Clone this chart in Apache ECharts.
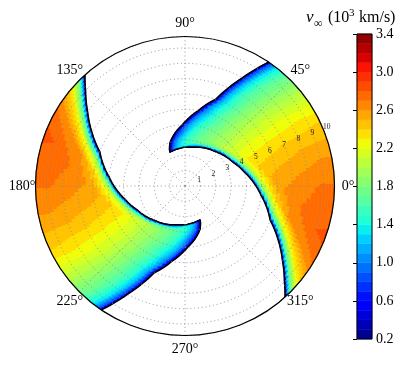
<!DOCTYPE html>
<html><head><meta charset="utf-8">
<script src="https://cdn.jsdelivr.net/npm/echarts@6/dist/echarts.min.js"></script>
<style>html,body{margin:0;padding:0;background:#fff}#c{width:408px;height:365px}</style>
</head><body><div id="c"></div>
<script>
// ---- data ----
// radial rows of one spiral arm (radius units)
const armRadii   = [2.42, 2.6, 3.0, 3.5, 4.0, 4.5, 5.0, 6.0, 7.0, 8.0, 9.0, 9.75];
// angle (deg) of the trailing (clockwise) edge and of the leading edge at each row
const trailAngle = [112, 76, 48, 26, 12.5, 2.5, -7, -22, -29.9, -37.4, -43.9, -48];
const leadAngle  = [114, 113, 109, 101, 92.5, 86, 80, 70.5, 66.1, 62, 58.5, 56];
// fraction across the arm (0 = trailing edge, 1 = leading edge)
const crossFrac  = [0, 0.012, 0.03, 0.07, 0.14, 0.25, 0.4, 0.55, 0.7, 0.82, 0.91, 0.96, 0.99, 1];
// v_inf (10^3 km/s) at each row x crossFrac
const vInf = [
  [0.2, 0.25, 0.3, 0.35, 0.4, 0.45, 0.5, 0.5, 0.45, 0.4, 0.35, 0.3, 0.25, 0.2],
  [0.2, 0.35, 0.4, 0.5, 0.65, 0.95, 1.3, 1.35, 1.22, 1.03, 0.7, 0.34, 0.25, 0.2],
  [0.2, 0.28, 0.4, 0.68, 1.35, 1.64, 1.72, 1.62, 1.42, 1.2, 0.95, 0.63, 0.29, 0.2],
  [0.2, 0.35, 0.7, 1.3, 1.78, 2.02, 1.92, 1.75, 1.56, 1.31, 0.94, 0.75, 0.37, 0.2],
  [0.2, 0.42, 0.89, 1.54, 2.0, 2.18, 2.0, 1.87, 1.68, 1.42, 1.15, 0.85, 0.36, 0.2],
  [0.2, 0.5, 1.03, 1.68, 2.17, 2.32, 2.16, 1.97, 1.71, 1.46, 1.18, 0.9, 0.42, 0.2],
  [0.2, 0.6, 1.2, 1.8, 2.21, 2.41, 2.28, 2.09, 1.85, 1.59, 1.24, 0.97, 0.48, 0.2],
  [0.2, 0.75, 1.4, 2.02, 2.38, 2.56, 2.46, 2.29, 2.03, 1.76, 1.44, 1.12, 0.63, 0.2],
  [0.2, 0.9, 1.55, 2.2, 2.6, 2.65, 2.56, 2.41, 2.15, 1.83, 1.55, 1.2, 0.72, 0.2],
  [0.2, 1.0, 1.65, 2.28, 2.65, 2.73, 2.65, 2.51, 2.26, 1.92, 1.61, 1.27, 0.8, 0.2],
  [0.2, 1.05, 1.72, 2.32, 2.66, 2.8, 2.74, 2.59, 2.36, 2.0, 1.68, 1.33, 0.82, 0.2],
  [0.2, 1.1, 1.78, 2.35, 2.68, 2.82, 2.76, 2.63, 2.42, 2.09, 1.72, 1.36, 0.85, 0.2]
];
// the second arm is the same field turned by 180 degrees
const armRotation = [0, 180];
const radialTickLabels = [1, 2, 3, 4, 5, 6, 7, 8, 9, 10];
const angleTickLabels = [0, 45, 90, 135, 180, 225, 270, 315];
const colorLevels = [0.2,0.3,0.4,0.5,0.6,0.7,0.8,0.9,1.0,1.1,1.2,1.3,1.4,1.5,1.6,1.7,1.8,1.9,2.0,2.1,2.2,2.3,2.4,2.5,2.6,2.7,2.8,2.9,3.0,3.1,3.2,3.3,3.4];
const colorbarTicks = [0.2, 0.6, 1.0, 1.4, 1.8, 2.2, 2.6, 3.0, 3.4];

// ---- layout constants ----
const RADIAL_LABEL_ANGLE = 22.5;
const ANGLE_LABEL_RADIUS = 10.63;

// ---- colour map (matplotlib jet, banded like contourf) ----
const JET = {
  r: [[0,0],[0.35,0],[0.66,1],[0.89,1],[1,0.5]],
  g: [[0,0],[0.125,0],[0.375,1],[0.64,1],[0.91,0],[1,0]],
  b: [[0,0.5],[0.11,1],[0.34,1],[0.65,0],[1,0]]
};
function seg(s, t) {
  for (let k = 0; k < s.length - 1; k++) {
    if (t <= s[k+1][0]) { const f = (t - s[k][0]) / (s[k+1][0] - s[k][0]); return s[k][1] + f * (s[k+1][1] - s[k][1]); }
  }
  return s[s.length-1][1];
}
function jet(t) {
  return 'rgb(' + Math.round(255*seg(JET.r,t)) + ',' + Math.round(255*seg(JET.g,t)) + ',' + Math.round(255*seg(JET.b,t)) + ')';
}
const NB = colorLevels.length - 1;
const bandColors = [];
for (let b = 0; b < NB; b++) bandColors.push(jet((b + 0.5) / NB));
function bandOf(v) { let b = 0; while (b < NB - 1 && v >= colorLevels[b+1] - 1e-9) b++; return b; }
function gradStops(vA, vB) {
  const bA = bandOf(vA), bB = bandOf(vB);
  const st = [{offset: 0, color: bandColors[bA]}];
  const cl = f => Math.max(0, Math.min(1, f));
  if (bA < bB) {
    for (let b = bA; b < bB; b++) { const f = cl((colorLevels[b+1] - vA) / (vB - vA)); st.push({offset: f, color: bandColors[b]}, {offset: f, color: bandColors[b+1]}); }
  } else if (bA > bB) {
    for (let b = bA; b > bB; b--) { const f = cl((colorLevels[b] - vA) / (vB - vA)); st.push({offset: f, color: bandColors[b]}, {offset: f, color: bandColors[b-1]}); }
  }
  st.push({offset: 1, color: bandColors[bB]});
  return st;
}

const NSUB = 4;
function lerp(a, b, t) { return a + (b - a) * t; }
const norm = d => ((d % 360) + 360) % 360;

// cells of both arms + one outline item per arm
const armCells = [];
armRotation.forEach((rot, a) => {
  for (let i = 0; i < armRadii.length - 1; i++) {
    for (let j = 0; j < crossFrac.length - 1; j++) {
      armCells.push([(armRadii[i] + armRadii[i+1]) / 2, norm((trailAngle[i] + leadAngle[i]) / 2 + rot), i, j, a]);
    }
  }
});
armRotation.forEach((rot, a) => armCells.push([armRadii[0], norm(leadAngle[0] + rot), -1, -1, a]));

function renderArm(params, api) {
  const i = api.value(2), j = api.value(3), a = api.value(4);
  const rot = armRotation[a];
  const P = (r, deg) => api.coord([r, norm(deg)]);
  if (i < 0) {
    const pts = [];
    for (let k = armRadii.length - 1; k > 0; k--) {
      for (let q = 0; q < NSUB; q++) {
        const u = 1 - q / NSUB;
        pts.push(P(lerp(armRadii[k-1], armRadii[k], u), lerp(trailAngle[k-1], trailAngle[k], u) + rot));
      }
    }
    pts.push(P(armRadii[0], trailAngle[0] + rot));
    pts.push(P(armRadii[0], leadAngle[0] + rot));
    for (let k = 0; k < armRadii.length - 1; k++) {
      for (let q = 1; q <= NSUB; q++) {
        const u = q / NSUB;
        pts.push(P(lerp(armRadii[k], armRadii[k+1], u), lerp(leadAngle[k], leadAngle[k+1], u) + rot));
      }
    }
    return {type: 'polyline', shape: {points: pts}, style: {stroke: '#000', lineWidth: 1.5, fill: null, lineJoin: 'round'}, z2: 50};
  }
  const children = [];
  const s0 = crossFrac[j], s1 = crossFrac[j+1];
  const edge = u => [lerp(armRadii[i], armRadii[i+1], u), lerp(trailAngle[i], trailAngle[i+1], u), lerp(leadAngle[i], leadAngle[i+1], u)];
  const th = (E, s) => E[1] + s * (E[2] - E[1]) + rot;
  for (let q = 0; q < NSUB; q++) {
    const u0 = q / NSUB, u1 = (q + 1) / NSUB, um = (u0 + u1) / 2;
    const E0 = edge(u0), E1 = edge(u1), Em = edge(um);
    const n = Math.max(1, Math.ceil(Math.abs((s1 - s0) * (E1[2] - E1[1])) / 2.5));
    const pts = [];
    for (let k = 0; k <= n; k++) pts.push(P(E0[0], th(E0, lerp(s0, s1, k / n))));
    for (let k = n; k >= 0; k--) pts.push(P(E1[0], th(E1, lerp(s0, s1, k / n))));
    const vA = lerp(vInf[i][j], vInf[i+1][j], um), vB = lerp(vInf[i][j+1], vInf[i+1][j+1], um);
    const A = P(Em[0], th(Em, s0)), B = P(Em[0], th(Em, s1));
    let fill, stroke;
    if (bandOf(vA) === bandOf(vB) || Math.hypot(B[0]-A[0], B[1]-A[1]) < 0.05) {
      fill = stroke = bandColors[bandOf((vA + vB) / 2)];
    } else {
      fill = {type: 'linear', x: A[0], y: A[1], x2: B[0], y2: B[1], global: true, colorStops: gradStops(vA, vB)};
      stroke = {type: 'linear', x: A[0], y: A[1], x2: B[0], y2: B[1], global: true, colorStops: gradStops(vA, vB)};
    }
    children.push({type: 'polygon', shape: {points: pts}, style: {fill: fill, stroke: stroke, lineWidth: 0.7}});
  }
  return {type: 'group', children: children};
}

const serif = 'Liberation Serif';

// polar tick labels (radial numbers along 22.5 deg, angle labels outside the rim)
const polarLabels = radialTickLabels.map(t => [t, RADIAL_LABEL_ANGLE, 0])
  .concat(angleTickLabels.map(a => [ANGLE_LABEL_RADIUS, a, 1]));
function renderPolarLabel(params, api) {
  const r = api.value(0), ang = api.value(1), kind = api.value(2);
  const p = api.coord([r, ang]);
  if (kind === 0) {
    return {type: 'text', x: p[0], y: p[1], style: {text: String(r), align: 'center', verticalAlign: 'middle', fontFamily: serif, fontSize: 7.5, fill: '#222'}, z2: 60};
  }
  return {type: 'text', x: p[0], y: p[1], style: {text: ang + '°', align: 'center', verticalAlign: 'middle', fontFamily: serif, fontSize: 14, fill: '#000'}, z2: 60};
}

// colour bar bands
const cbarItems = colorLevels.slice(0, -1).map((v, b) => [0.5, v, b]);
cbarItems.push([0.5, colorLevels[0], -1]);
function renderBar(params, api) {
  const b = api.value(2);
  if (b < 0) {
    const p0 = api.coord([0, colorLevels[0]]), p1 = api.coord([1, colorLevels[NB]]);
    return {type: 'rect', shape: {x: p0[0], y: p1[1], width: p1[0]-p0[0], height: p0[1]-p1[1]}, style: {fill: null, stroke: '#000', lineWidth: 1}, z2: 20};
  }
  const p0 = api.coord([0, colorLevels[b]]), p1 = api.coord([1, colorLevels[b+1]]);
  return {type: 'rect', shape: {x: p0[0], y: p1[1], width: p1[0]-p0[0], height: p0[1]-p1[1]}, style: {fill: bandColors[b], stroke: bandColors[b], lineWidth: 0.5}};
}

const gridDot = {color: '#8a8a8a', width: 0.9, type: [1, 2.8]};
const chart = echarts.init(document.getElementById('c'), null, {renderer: 'canvas'});
chart.setOption({
  animation: false,
  polar: [{center: [185, 186], radius: 149.5}],
  angleAxis: {
    polarIndex: 0, type: 'value', min: 0, max: 360, interval: 45, startAngle: 0, clockwise: false, z: 10,
    axisLine: {show: true, lineStyle: {color: '#000', width: 1.2}},
    axisTick: {show: false},
    axisLabel: {show: false},
    splitLine: {show: true, lineStyle: gridDot}
  },
  radiusAxis: {
    polarIndex: 0, type: 'value', min: 0, max: 9.75, interval: 1, z: 10,
    axisLine: {show: false}, axisTick: {show: false}, axisLabel: {show: false},
    splitLine: {show: true, lineStyle: gridDot}
  },
  grid: {left: 357, top: 34, width: 15, height: 305},
  xAxis: {type: 'value', min: 0, max: 1, show: false},
  yAxis: {
    type: 'value', position: 'right', z: 10,
    min: colorbarTicks[0], max: colorbarTicks[colorbarTicks.length-1], interval: +(colorbarTicks[1]-colorbarTicks[0]).toFixed(3),
    axisLine: {show: false},
    axisTick: {show: true, inside: true, length: 4, lineStyle: {color: '#000', width: 1}},
    axisLabel: {margin: 4, fontFamily: serif, fontSize: 14, color: '#000', formatter: v => v.toFixed(1)},
    splitLine: {show: false}
  },
  graphic: [
    {type: 'text', x: 306, y: 18, style: {text: 'v', fontFamily: serif, fontStyle: 'italic', fontSize: 17, fill: '#000', verticalAlign: 'middle'}},
    {type: 'text', x: 314, y: 23.5, style: {text: '∞', fontFamily: serif, fontSize: 12, fill: '#000', verticalAlign: 'middle'}},
    {type: 'text', x: 328, y: 18, style: {text: '(10', fontFamily: serif, fontSize: 16, fill: '#000', verticalAlign: 'middle'}},
    {type: 'text', x: 349, y: 13, style: {text: '3', fontFamily: serif, fontSize: 11, fill: '#000', verticalAlign: 'middle'}},
    {type: 'text', x: 359, y: 18, style: {text: 'km/s)', fontFamily: serif, fontSize: 16, fill: '#000', verticalAlign: 'middle'}}
  ],
  series: [
    {type: 'custom', coordinateSystem: 'polar', polarIndex: 0, renderItem: renderArm, data: armCells,
     encode: {radius: 0, angle: 1}, z: 2, silent: true, clip: false},
    {type: 'custom', coordinateSystem: 'polar', polarIndex: 0, renderItem: renderPolarLabel, data: polarLabels,
     encode: {radius: 0, angle: 1}, z: 12, silent: true, clip: false},
    {type: 'custom', coordinateSystem: 'cartesian2d', xAxisIndex: 0, yAxisIndex: 0, renderItem: renderBar, data: cbarItems, z: 2, silent: true}
  ]
});
</script></body></html>
